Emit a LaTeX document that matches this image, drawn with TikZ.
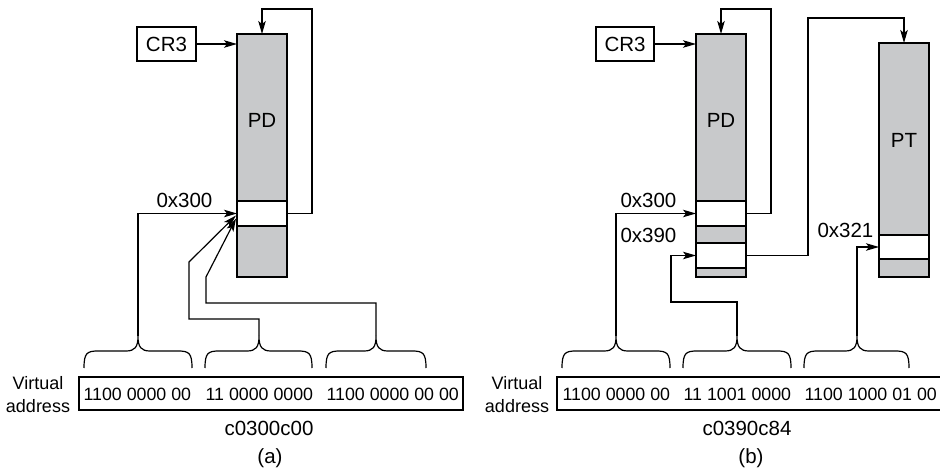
\documentclass[tikz,border=0pt]{standalone}
\usepackage{fontspec}
\setmainfont{Liberation Sans}
\usetikzlibrary{arrows.meta}
\definecolor{pdgray}{RGB}{200,201,203}
\newcommand{\mybrace}[3]{%
  \draw (#1,368) .. controls (#1,353) and (#1+3,351) .. (#1+14,351) -- (#2-12,351)
    .. controls (#2-3,351) and (#2,347) .. (#2,336)
    .. controls (#2,347) and (#2+3,351) .. (#2+12,351) -- (#3-14,351)
    .. controls (#3-3,351) and (#3,353) .. (#3,368);}
\begin{document}
\begin{tikzpicture}[x=1pt,y=-1pt,
  line width=1.2pt,
  arr/.style={-{Stealth[length=13pt,width=7.5pt,inset=3pt]}},
  tbl/.style={draw, fill=pdgray, minimum width=50pt, anchor=north west, inner sep=0pt, outer sep=0pt},
  slot/.style={draw, fill=white, minimum width=50pt, anchor=north west, inner sep=0pt, outer sep=0pt},
  lab/.style={font=\fontsize{20.5}{24}\selectfont, inner sep=0pt},
  bits/.style={font=\fontsize{17.8}{21}\selectfont, inner sep=0pt, anchor=west},
  cr/.style={draw, minimum width=59pt, minimum height=34pt, inner sep=0pt, font=\fontsize{20.5}{24}\selectfont},
  addr/.style={draw, minimum height=33pt, anchor=north west, inner sep=0pt, outer sep=0pt},
  va/.style={align=center, font=\fontsize{18}{23}\selectfont, inner sep=0pt}
]
\useasboundingbox (0,0) rectangle (940,470);

% ---------------- panel (a) ----------------
\node[cr] (cra) at (166.5,44) {CR3};
\node[tbl, minimum height=243pt] (pda) at (237,34) {};
\node[lab] (pdla) at (262,120) {PD};
\node[slot, minimum height=25pt] (sa) at (237,201) {};
\node[lab, anchor=east] (la300) at (213,200) {0x300};
\draw[arr] (cra.east) -- (cra.east -| pda.west);
\draw[arr] (sa.east) -- ++(25,0) |- ([yshift=25pt]pda.north) -- (pda.north);

\node[addr, minimum width=384pt] (adra) at (79,377) {};
\node[bits] (ba1) at (83,394) {1100 0000 00};
\node[bits] (ba2) at (205,394) {11 0000 0000};
\node[bits] (ba3) at (326,394) {1100 0000 00 00};
\node[va] (vaa) at (38,394.5) {Virtual\\address};
\node[lab] (capa) at (269,428) {c0300c00};
\node[lab] (pa) at (270,458) {(a)};

\mybrace{84}{138}{192}
\mybrace{205}{259}{312}
\mybrace{326}{376}{426}
\coordinate (ta1) at (138,336);
\coordinate (ta2) at (259,336);
\coordinate (ta3) at (376,336);
\coordinate (hA1) at ([shift={(-1,2)}]sa.west);
\coordinate (hA2) at ([shift={(-1,5)}]sa.west);
\draw[arr] (ta1) |- (sa.west);
\draw[arr] (ta2) -- (259,319) -- (189,319) -- (189,262) -- (hA1);
\draw[arr] (ta3) -- (376,303) -- (206,303) -- (206,277) -- (hA2);

% ---------------- panel (b) ----------------
\node[cr, minimum width=58pt] (crb) at (625,44) {CR3};
\node[tbl, minimum height=243pt] (pdb) at (696,34) {};
\node[lab] (pdlb) at (721,120) {PD};
\node[slot, minimum height=25pt] (sb1) at (696,201) {};
\node[slot, minimum height=25pt] (sb2) at (696,243) {};
\node[lab, anchor=east] (lb300) at (677,200) {0x300};
\node[lab, anchor=east] (lb390) at (677,235) {0x390};

\node[tbl, minimum height=234pt] (ptb) at (879,43) {};
\node[lab] (ptl) at (904,140) {PT};
\node[slot, minimum height=24pt] (sp) at (879,235) {};
\node[lab, anchor=east] (lb321) at (874,230) {0x321};

\draw[arr] (crb.east) -- (crb.east -| pdb.west);
\draw[arr] (sb1.east) -- ++(25,0) |- ([yshift=25pt]pdb.north) -- (pdb.north);
\draw[arr] (sb2.east) -- ++(62,0) |- ([yshift=25pt]ptb.north) -- (ptb.north);

\node[addr, minimum width=390pt] (adrb) at (557,377) {};
\node[bits] (bb1) at (562,394) {1100 0000 00};
\node[bits] (bb2) at (683,394) {11 1001 0000};
\node[bits] (bb3) at (804,394) {1100 1000 01 00};
\node[va] (vab) at (517,394.5) {Virtual\\address};
\node[lab] (capb) at (747,428) {c0390c84};
\node[lab] (pb) at (751,458) {(b)};

\mybrace{562}{616}{670}
\mybrace{683}{737}{791}
\mybrace{804}{857}{909}
\coordinate (tb1) at (616,336);
\coordinate (tb2) at (737,336);
\coordinate (tb3) at (857,336);
\draw[arr] (tb1) |- (sb1.west);
\draw[arr] (tb2) -- (737,302) -- (671,302) |- (sb2.west);
\draw[arr] (tb3) |- (sp.west);
\end{tikzpicture}
\end{document}
